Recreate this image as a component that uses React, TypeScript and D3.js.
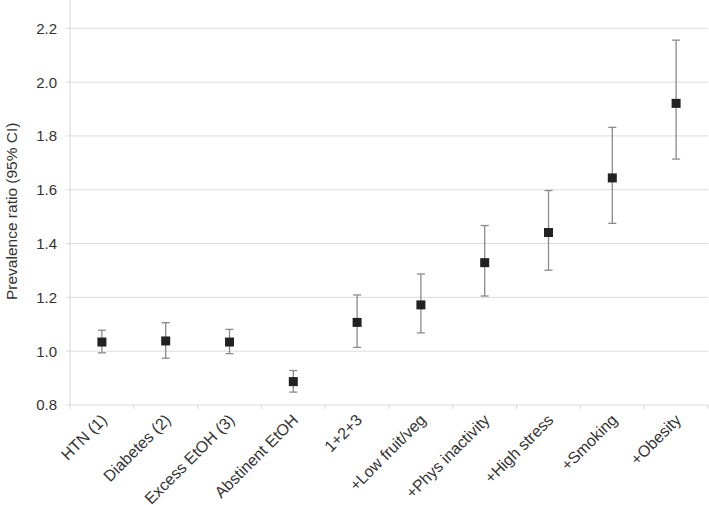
import React from "react";
import * as d3 from "d3";

const categories = [
  "HTN (1)",
  "Diabetes (2)",
  "Excess EtOH (3)",
  "Abstinent EtOH",
  "1+2+3",
  "+Low fruit/veg",
  "+Phys inactivity",
  "+High stress",
  "+Smoking",
  "+Obesity",
];
const ratios = [1.034, 1.038, 1.034, 0.887, 1.107, 1.172, 1.329, 1.441, 1.644, 1.921];
const lower = [0.994, 0.974, 0.991, 0.848, 1.014, 1.068, 1.205, 1.301, 1.475, 1.714];
const upper = [1.078, 1.106, 1.081, 0.928, 1.209, 1.287, 1.467, 1.597, 1.832, 2.156];
const yTicks = [0.8, 1.0, 1.2, 1.4, 1.6, 1.8, 2.0, 2.2];

const W = 709;
const H = 505;
const left = 70;
const right = 708;
const bottom = 405;

export default function App() {
  const x = d3.scaleBand<string>().domain(categories).range([left, right]);
  const y = d3.scaleLinear().domain([0.8, 2.2]).range([bottom, 28.3]);
  const font = "Liberation Sans, Arial, sans-serif";
  const bw = x.bandwidth();
  return (
    <svg
      width={W}
      height={H}
      style={{ position: "absolute", left: 0, top: 0 }}
      fontFamily={font}
    >
      <rect width={W} height={H} fill="#fff" />
      {yTicks.map((t) => (
        <g key={t}>
          <line x1={66} x2={right} y1={y(t)} y2={y(t)} stroke="#dcdcdc" strokeWidth={1} />
          <text x={57} y={y(t)} dy="0.36em" textAnchor="end" fontSize={15} fill="#333">
            {d3.format(".1f")(t)}
          </text>
        </g>
      ))}
      <line x1={left} x2={left} y1={0} y2={bottom + 4} stroke="#d6d6d6" />
      {categories.map((c, i) => (
        <line key={"t" + i} x1={x(c)! + bw} x2={x(c)! + bw} y1={bottom} y2={bottom + 4} stroke="#d6d6d6" />
      ))}
      <text
        transform={`translate(17,${y(1.52)}) rotate(-90)`}
        textAnchor="middle"
        fontSize={15.5}
        fill="#333"
      >
        Prevalence ratio (95% CI)
      </text>
      {categories.map((c, i) => {
        const cx = x(c)! + bw / 2;
        return (
          <g key={c}>
            <line x1={cx} x2={cx} y1={y(lower[i])} y2={y(upper[i])} stroke="#8a8a8a" strokeWidth={1.3} />
            <line x1={cx - 4} x2={cx + 4} y1={y(lower[i])} y2={y(lower[i])} stroke="#8a8a8a" strokeWidth={1.3} />
            <line x1={cx - 4} x2={cx + 4} y1={y(upper[i])} y2={y(upper[i])} stroke="#8a8a8a" strokeWidth={1.3} />
            <rect x={cx - 4.5} y={y(ratios[i]) - 4.5} width={9} height={9} fill="#222" />
            <text
              transform={`translate(${cx + 6},${bottom + 16}) rotate(-45)`}
              textAnchor="end"
              fontSize={16}
              fill="#333"
            >
              {c}
            </text>
          </g>
        );
      })}
    </svg>
  );
}
